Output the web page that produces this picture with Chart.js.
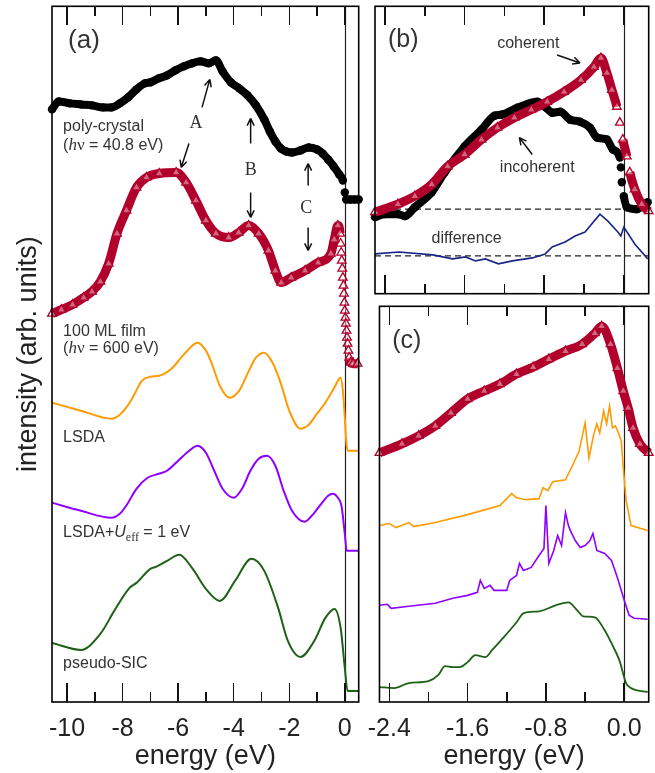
<!DOCTYPE html>
<html>
<head>
<meta charset="utf-8">
<script src="https://cdn.jsdelivr.net/npm/chart.js@4.4.1/dist/chart.umd.min.js"></script>
<style>
  html, body { margin: 0; padding: 0; background: #fff; }
  #wrap { position: relative; width: 655px; height: 773px; overflow: hidden; }
  canvas { position: absolute; }
  .tick { position: absolute; width: 1.5px; background: #111; z-index: 5; }
</style>
</head>
<body>
<div id="wrap">
  <canvas id="chartA" width="365" height="773" style="left:0px;top:0px"></canvas>
  <canvas id="chartB" width="300" height="300" style="left:355px;top:0px"></canvas>
  <canvas id="chartC" width="300" height="473" style="left:355px;top:300px"></canvas>
</div>
<script>
// ---- panel (a): energy (eV) / intensity (arb. units)
const polyE = [-10.54,-10.3,-9.9,-9.5,-9.1,-8.7,-8.4,-8.1,-7.8,-7.5,-7.2,-7.0,-6.7,-6.4,-6.1,-5.8,-5.5,-5.2,-4.9,-4.64,-4.4,-4.1,-3.8,-3.5,-3.2,-2.9,-2.7,-2.5,-2.3,-2.1,-1.9,-1.6,-1.3,-1.0,-0.8,-0.6,-0.4,-0.2,-0.07,0.0,0.05,0.2,0.35,0.5];
const polyI = [592,600,598,597,596,594,594,598,604,612,618,619,623,626,631,635,638,640,638,641,630,619,613,606,596,582,570,560,553,550,549,551,554,552,548,542,535,527,521,509,502,502,502,502];

const filmE = [-10.54,-10.2,-9.8,-9.4,-9.1,-8.8,-8.5,-8.2,-7.86,-7.5,-7.14,-6.68,-6.07,-5.71,-5.36,-5.0,-4.64,-4.18,-3.82,-3.46,-3.1,-2.75,-2.5,-2.29,-1.93,-1.43,-0.96,-0.5,-0.38,-0.25,-0.17,-0.15,-0.13,-0.11,-0.09,-0.07,-0.05,-0.03,-0.015,0.0,0.02,0.04,0.06,0.08,0.1,0.13,0.16,0.21,0.3,0.46];
const filmI = [388,392,397,404,410,420,438,468,491,514,524,528,529,519,501,481,468,464,469,476,468,451,431,419,424,431,439,448,462,476,468,458,449,441,433,424,416,408,399,391,384,378,371,364,358,351,344,339,338,338];

const lsdaE = [-10.54,-9.5,-8.4,-8.1,-7.87,-7.6,-7.3,-7.0,-6.68,-6.2,-5.8,-5.3,-5.0,-4.8,-4.5,-4.14,-3.8,-3.5,-3.2,-2.9,-2.6,-2.3,-2.0,-1.6,-1.3,-1.0,-0.7,-0.4,-0.2,-0.15,-0.07,0.0,0.05,0.1,0.5];
const lsdaI = [299,291,283,287,294,306,321,325,326,334,347,359,351,339,316,304,311,328,344,349,339,318,291,273,277,288,299,313,323,324,311,284,261,251,251];

const ldauE = [-10.54,-9.5,-8.4,-8.1,-7.87,-7.5,-7.1,-6.7,-6.4,-6.0,-5.6,-5.3,-5.0,-4.7,-4.4,-4.0,-3.7,-3.4,-3.1,-2.8,-2.5,-2.2,-1.9,-1.45,-1.1,-0.85,-0.6,-0.43,-0.25,-0.12,0.0,0.07,0.5];
const ldauI = [199,191,184,188,196,213,224,228,231,241,251,256,249,231,213,204,213,231,243,246,236,211,191,180,189,198,206,208,204,196,168,151,151];

const sicE = [-10.54,-9.5,-8.8,-8.3,-7.75,-7.5,-7.0,-6.8,-6.4,-5.96,-5.5,-5.0,-4.5,-3.95,-3.36,-2.9,-2.4,-2.05,-1.6,-1.1,-0.7,-0.37,-0.15,0.0,0.1,0.5];
const sicI = [59,52,68,91,114,119,133,135,141,147,134,113,101,121,143,131,94,61,45,61,84,93,74,34,11,11];

const ticksA = [-10,-9,-8,-7,-6,-5,-4,-3,-2,-1,0];
const tickLabelsA = ['-10','','-8','','-6','','-4','','-2','','0'];

// ---- panel (b)
const cohE = [-2.5,-2.27,-2.1,-1.93,-1.77,-1.6,-1.43,-1.27,-1.1,-0.93,-0.77,-0.6,-0.43,-0.3,-0.23,-0.17,-0.12,-0.07,-0.04,-0.01,0.03,0.06,0.11,0.18,0.25];
const cohI = [82,90,98,110,128,140,155,167,177,185,193,203,215,228,237,222,205,188,172,155,138,122,105,90,83];

const incE = [-2.5,-2.4,-2.27,-2.2,-2.1,-1.93,-1.8,-1.6,-1.43,-1.3,-1.23,-1.07,-0.87,-0.78,-0.72,-0.64,-0.54,-0.44,-0.34,-0.27,-0.17,-0.11,-0.04,-0.03,-0.02,0.0,0.03,0.13,0.24];
const incI = [77,80,80,78,87,102,122,148,165,179,180,187,193,187,182,183,175,173,167,157,155,145,137,127,112,98,87,85,92];

const diffE = [-2.5,-2.26,-1.92,-1.72,-1.59,-1.49,-1.39,-1.26,-1.12,-0.92,-0.79,-0.72,-0.59,-0.49,-0.39,-0.24,-0.16,-0.06,-0.03,0.0,0.11,0.24];
const diffI = [40,42,39,35,37,33,35,30,33,36,40,47,52,58,62,80,73,62,58,67,50,35];

const baseLevels = [85, 38];

// ---- panel (c)
const cRedE = [-2.5,-2.27,-2.1,-1.93,-1.77,-1.6,-1.43,-1.27,-1.1,-0.93,-0.77,-0.6,-0.43,-0.3,-0.23,-0.14,-0.07,-0.01,0.04,0.09,0.16,0.25];
const cRedI = [250,259,267,277,290,304,312,319,329,336,344,352,359,370,377,359,335,312,295,275,259,250];

const cLsdaE = [-2.5,-2.4,-2.33,-2.2,-2.15,-1.93,-1.6,-1.27,-1.15,-1.1,-1.0,-0.87,-0.83,-0.78,-0.73,-0.6,-0.52,-0.46,-0.4,-0.36,-0.31,-0.28,-0.25,-0.21,-0.18,-0.15,-0.12,-0.09,-0.06,-0.03,-0.01,0.02,0.07,0.24];
const cLsdaI = [177,179,175,180,176,180,188,197,209,205,203,204,215,212,221,223,239,252,280,245,269,279,270,292,279,297,275,277,270,262,235,202,177,172];

const cLdauE = [-2.5,-2.42,-2.38,-2.2,-1.93,-1.75,-1.6,-1.5,-1.47,-1.43,-1.37,-1.33,-1.2,-1.17,-1.1,-1.07,-1.03,-0.95,-0.87,-0.82,-0.8,-0.77,-0.72,-0.68,-0.64,-0.6,-0.57,-0.55,-0.5,-0.45,-0.4,-0.35,-0.32,-0.28,-0.2,-0.13,-0.07,0.0,0.05,0.1,0.24];
const cLdauI = [97,98,94,96,99,104,107,110,122,114,117,112,112,122,127,139,132,135,147,154,197,139,152,167,157,190,177,172,162,155,157,162,169,152,149,142,125,102,87,84,83];

const cSicE = [-2.5,-2.35,-2.2,-2.0,-1.9,-1.83,-1.75,-1.68,-1.6,-1.52,-1.42,-1.35,-1.23,-1.1,-1.03,-0.87,-0.7,-0.57,-0.48,-0.42,-0.3,-0.2,-0.13,-0.05,0.03,0.24];
const cSicI = [15,14,19,21,27,36,35,35,40,47,45,52,65,80,89,91,97,100,92,86,85,72,59,42,17,10];

const ticksBC = [-2.4,-2.0,-1.6,-1.2,-0.8,-0.4,0.0];
const tickLabelsBC = ['-2.4','','-1.6','','-0.8','','0.0'];

// colours
const RED = '#b1002b', ORANGE = '#ff9a00', PURPLE = '#8f00ff', GREEN = '#1d6214', NAVY = '#1b2585';
const SANS = '"Liberation Sans", Arial, Helvetica, sans-serif';
const SERIF = '"Liberation Serif", "Times New Roman", serif';

function pts(es, is) { return es.map((e, i) => ({x: e, y: is[i]})); }

function steep(sc) {
  return Math.abs(sc.p1.y - sc.p0.y) > 5 * Math.abs(sc.p1.x - sc.p0.x);
}

function curve(es, is, color, w) {
  return {data: pts(es, is), borderColor: color, borderWidth: w, pointRadius: 0,
    cubicInterpolationMode: 'monotone', fill: false};
}
function jagged(es, is, color, w) {
  return {data: pts(es, is), borderColor: color, borderWidth: w, pointRadius: 0, tension: 0, fill: false};
}
function markers(es, is, color, kind) {
  const tri = kind === 'triangle';
  return {
    data: pts(es, is), borderColor: color, borderWidth: tri ? 9 : 8, fill: false,
    cubicInterpolationMode: 'monotone', clip: false,
    pointStyle: kind, pointRadius: tri ? 5 : 4.2,
    pointBorderColor: color, pointBorderWidth: tri ? 1.3 : 0,
    pointBackgroundColor: tri ? 'rgba(255,255,255,0.4)' : color,
    segment: {borderColor: sc => steep(sc) ? 'rgba(0,0,0,0)' : color}
  };
}
function dashed(level, x0, x1) {
  return {data: [{x: x0, y: level}, {x: x1, y: level}], borderColor: '#222', borderWidth: 1.2,
    borderDash: [6, 4], pointRadius: 0, fill: false};
}

function drawNote(ctx, x, y, n) {
  const base = n.size || 16;
  const segs = n.parts.map(p => {
    const font = `${p.style || 'normal'} ${p.size || base}px ${p.family || n.family || SANS}`;
    ctx.font = font;
    return {p, font, w: ctx.measureText(p.t).width};
  });
  const total = segs.reduce((s, g) => s + g.w, 0);
  let px = x.getPixelForValue(n.e);
  if (n.align === 'center') px -= total / 2;
  const py = y.getPixelForValue(n.v);
  ctx.fillStyle = '#333';
  ctx.textAlign = 'left';
  ctx.textBaseline = 'middle';
  segs.forEach(g => { ctx.font = g.font; ctx.fillText(g.p.t, px, py + (g.p.dy || 0)); px += g.w; });
}

function drawArrow(ctx, x, y, ar) {
  const x0 = x.getPixelForValue(ar[0]), y0 = y.getPixelForValue(ar[1]);
  const x1 = x.getPixelForValue(ar[2]), y1 = y.getPixelForValue(ar[3]);
  const ang = Math.atan2(y1 - y0, x1 - x0);
  ctx.strokeStyle = '#111';
  ctx.lineWidth = 1.5;
  ctx.beginPath();
  ctx.moveTo(x0, y0); ctx.lineTo(x1, y1);
  [-1, 1].forEach(s => {
    ctx.moveTo(x1, y1);
    ctx.lineTo(x1 - 8 * Math.cos(ang + s * 0.45), y1 - 8 * Math.sin(ang + s * 0.45));
  });
  ctx.stroke();
}

// frame, zero line and labels
function framePlugin(cfg) {
  return {
    id: 'frame',
    beforeDatasetsDraw(chart) {
      const {ctx, chartArea: a, scales: {x}} = chart;
      const zx = Math.round(x.getPixelForValue(0)) + 0.5;
      ctx.save();
      ctx.strokeStyle = '#222';
      ctx.lineWidth = 1.2;
      ctx.beginPath(); ctx.moveTo(zx, a.top); ctx.lineTo(zx, a.bottom); ctx.stroke();
      ctx.restore();
    },
    afterDatasetsDraw(chart) {
      const {ctx, scales: {x, y}} = chart;
      ctx.save();
      (cfg.arrows || []).forEach(ar => drawArrow(ctx, x, y, ar));
      (cfg.notes || []).forEach(n => drawNote(ctx, x, y, n));
      ctx.restore();
    },
    afterDraw(chart) {
      const ctx = chart.ctx, a = chart.chartArea;
      ctx.save();
      ctx.strokeStyle = '#000';
      ctx.lineWidth = 1.6;
      ctx.strokeRect(a.left, a.top, a.right - a.left, a.bottom - a.top);
      ctx.restore();
    }
  };
}

// inward tick marks on the top and bottom edges, placed with the chart's own x scale
function addTicks(chart, vals, labels) {
  const cv = chart.canvas, a = chart.chartArea, sx = chart.scales.x;
  const wrap = document.getElementById('wrap');
  vals.forEach((v, i) => {
    const len = labels[i] !== '' ? 19 : 10;
    const px = cv.offsetLeft + sx.getPixelForValue(v);
    [cv.offsetTop + a.top, cv.offsetTop + a.bottom - len].forEach(top => {
      const d = document.createElement('div');
      d.className = 'tick';
      d.style.left = (px - 0.75).toFixed(2) + 'px';
      d.style.top = top.toFixed(2) + 'px';
      d.style.height = len + 'px';
      wrap.appendChild(d);
    });
  });
}

function xAxis(min, max, tickVals, tickLabels) {
  return {
    type: 'linear', min, max,
    afterBuildTicks: s => { s.ticks = tickVals.map(v => ({value: v})); },
    afterFit: s => { s.height = 71; },
    grid: {display: false, drawTicks: false},
    border: {display: false},
    ticks: {autoSkip: false, maxRotation: 0, padding: 12, color: '#222',
      font: {family: SANS, size: 25}, callback: (v, i) => tickLabels[i]},
    title: {display: true, text: 'energy (eV)', color: '#222',
      font: {family: SANS, size: 27}, padding: {top: 0, bottom: 0}}
  };
}

function baseOptions(padding, scales) {
  return {
    responsive: false, animation: false, devicePixelRatio: 1, events: [],
    layout: {padding},
    scales,
    plugins: {legend: {display: false}, tooltip: {enabled: false}}
  };
}

// panel (a)
const chartA = new Chart(document.getElementById('chartA'), {
  type: 'line',
  data: {datasets: [
    markers(filmE, filmI, RED, 'triangle'),
    markers(polyE, polyI, '#000', 'circle'),
    curve(lsdaE, lsdaI, ORANGE, 2),
    curve(ldauE, ldauI, PURPLE, 2),
    curve(sicE, sicI, GREEN, 2)
  ]},
  options: baseOptions({left: 0, top: 6, right: 4, bottom: 0}, {
    x: xAxis(-10.54, 0.5, ticksA, tickLabelsA),
    y: {type: 'linear', min: 0, max: 695,
      afterFit: s => { s.width = 52; },
      grid: {display: false}, border: {display: false}, ticks: {display: false},
      title: {display: true, text: 'intensity (arb. units)', color: '#222',
        font: {family: SANS, size: 27}, padding: {top: 12, bottom: 0}}}
  }),
  plugins: [framePlugin({
    arrows: [
      [-5.14, 594, -4.86, 622], [-5.61, 558, -5.89, 534],
      [-3.39, 558, -3.39, 583], [-3.39, 509, -3.39, 484],
      [-1.32, 516, -1.32, 538], [-1.32, 474, -1.32, 451]
    ],
    notes: [
      {e: -9.96, v: 661, size: 26, parts: [{t: '(a)'}]},
      {e: -10.14, v: 575, parts: [{t: 'poly-crystal'}]},
      {e: -10.14, v: 556, parts: [{t: '('}, {t: 'h', style: 'italic', family: SERIF, size: 17}, {t: 'ν', family: SERIF, size: 17}, {t: ' = 40.8 eV)'}]},
      {e: -10.14, v: 370, parts: [{t: '100 ML film'}]},
      {e: -10.14, v: 353, parts: [{t: '('}, {t: 'h', style: 'italic', family: SERIF, size: 17}, {t: 'ν', family: SERIF, size: 17}, {t: ' = 600 eV)'}]},
      {e: -10.14, v: 264, parts: [{t: 'LSDA'}]},
      {e: -10.14, v: 169, parts: [{t: 'LSDA+'}, {t: 'U', style: 'italic'}, {t: 'eff', family: SERIF, size: 12, dy: 5}, {t: ' = 1 eV'}]},
      {e: -10.14, v: 38, parts: [{t: 'pseudo-SIC'}]},
      {e: -5.36, v: 578, align: 'center', family: SERIF, size: 18, parts: [{t: 'A'}]},
      {e: -3.39, v: 531, align: 'center', family: SERIF, size: 18, parts: [{t: 'B'}]},
      {e: -1.39, v: 493, align: 'center', family: SERIF, size: 18, parts: [{t: 'C'}]}
    ]
  })]
});

// panel (b)
const chartB = new Chart(document.getElementById('chartB'), {
  type: 'line',
  data: {datasets: [
    markers(cohE, cohI, RED, 'triangle'),
    markers(incE, incI, '#000', 'circle'),
    jagged(diffE, diffI, NAVY, 1.6),
    dashed(baseLevels[0], -2.5, 0.25),
    dashed(baseLevels[1], -2.5, 0.25)
  ]},
  options: baseOptions({left: 20, top: 6, right: 6, bottom: 5}, {
    x: {type: 'linear', min: -2.5, max: 0.25, display: false},
    y: {type: 'linear', min: 0, max: 289, display: false}
  }),
  plugins: [framePlugin({
    arrows: [[-0.67, 240, -0.44, 232], [-0.92, 140, -1.05, 157]],
    notes: [
      {e: -2.37, v: 255, size: 25, parts: [{t: '(b)'}]},
      {e: -0.96, v: 251, align: 'center', parts: [{t: 'coherent'}]},
      {e: -0.87, v: 127, align: 'center', parts: [{t: 'incoherent'}]},
      {e: -1.58, v: 55, align: 'center', parts: [{t: 'difference'}]}
    ]
  })]
});

// panel (c)
const chartC = new Chart(document.getElementById('chartC'), {
  type: 'line',
  data: {datasets: [
    markers(cRedE, cRedI, RED, 'triangle'),
    jagged(cLsdaE, cLsdaI, ORANGE, 1.6),
    jagged(cLdauE, cLdauI, PURPLE, 1.6),
    curve(cSicE, cSicI, GREEN, 1.8)
  ]},
  options: baseOptions({left: 0, top: 5, right: 6, bottom: 0}, {
    x: xAxis(-2.5, 0.25, ticksBC, tickLabelsBC),
    y: {type: 'linear', min: 0, max: 397,
      afterFit: s => { s.width = 20; },
      grid: {display: false}, border: {display: false}, ticks: {display: false}}
  }),
  plugins: [framePlugin({
    notes: [{e: -2.37, v: 362, size: 25, parts: [{t: '(c)'}]}]
  })]
});

addTicks(chartA, ticksA, tickLabelsA);
addTicks(chartB, ticksBC, tickLabelsBC);
addTicks(chartC, ticksBC, tickLabelsBC);
</script>
</body>
</html>
